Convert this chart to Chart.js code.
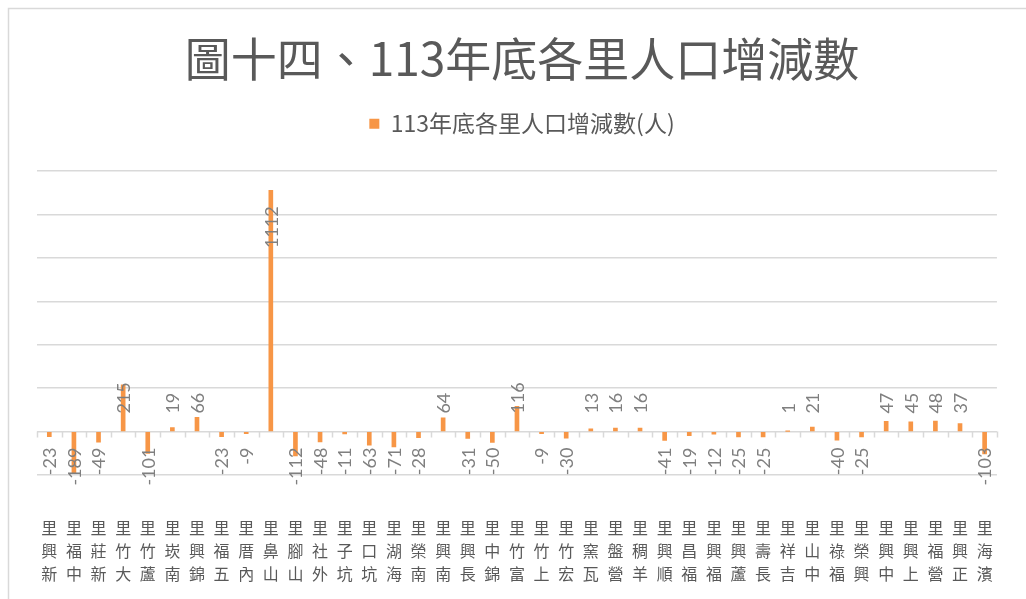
<!DOCTYPE html>
<html>
<head>
<meta charset="utf-8">
<script src="https://cdn.jsdelivr.net/npm/chart.js@4.4.1/dist/chart.umd.min.js"></script>
<style>
  html, body { margin: 0; padding: 0; background: #fff; }
</style>
</head>
<body>
<canvas id="village_chart" width="1026" height="599"></canvas>
<script>
// 各里名稱與人口增減數
var villages = [
  "新興里", "中福里", "新莊里", "大竹里", "蘆竹里", "南崁里", "錦興里", "五福里",
  "內厝里", "山鼻里", "山腳里", "外社里", "坑子里", "坑口里", "海湖里", "南榮里",
  "南興里", "長興里", "錦中里", "富竹里", "上竹里", "宏竹里", "瓦窯里", "營盤里",
  "羊稠里", "順興里", "福昌里", "福興里", "蘆興里", "長壽里", "吉祥里", "中山里",
  "福祿里", "興榮里", "中興里", "上興里", "營福里", "正興里", "濱海里"
];
var changes = [
  -23, -189, -49, 215, -101, 19, 66, -23,
  -9, 1112, -112, -48, -11, -63, -71, -28,
  64, -31, -50, 116, -9, -30, 13, 16,
  16, -41, -19, -12, -25, -25, 1, 21,
  -40, -25, 47, 45, 48, 37, -103
];
var seriesName = "113年底各里人口增減數(人)";
var chartTitle = "圖十四、113年底各里人口增減數";

// labels are drawn as stacked upright characters, read bottom to top
function stackedLabel(name) {
  return name.split("").reverse();
}

var grey = "#595959";
var gridGrey = "#d9d9d9";

var decorPlugin = {
  id: "decor",
  beforeDraw: function (chart) {
    var ctx = chart.ctx;
    ctx.save();
    ctx.strokeStyle = gridGrey;
    ctx.lineWidth = 1.5;
    ctx.strokeRect(8.5, 8.5, chart.width + 20, chart.height + 20);
    ctx.restore();
  },
  beforeDatasetsDraw: function (chart) {
    // small tick marks under the zero line, between categories
    var ctx = chart.ctx;
    var x = chart.scales.x, y = chart.scales.y;
    var zeroY = y.getPixelForValue(0);
    var step = (x.right - x.left) / villages.length;
    ctx.save();
    ctx.strokeStyle = gridGrey;
    ctx.lineWidth = 1.5;
    ctx.beginPath();
    for (var i = 0; i <= villages.length; i++) {
      var px = Math.round(x.left + i * step) + 0.5;
      ctx.moveTo(px, zeroY);
      ctx.lineTo(px, zeroY + 6);
    }
    ctx.stroke();
    ctx.restore();
  },
  afterDatasetsDraw: function (chart) {
    var ctx = chart.ctx;
    var zeroY = chart.scales.y.getPixelForValue(0);
    var meta = chart.getDatasetMeta(0);
    ctx.save();
    ctx.font = "18px Lato, 'Liberation Sans', sans-serif";
    ctx.fillStyle = "#7f7f7f";
    ctx.textBaseline = "middle";
    meta.data.forEach(function (bar, i) {
      var v = changes[i];
      var txt = String(v);
      var w = ctx.measureText(txt).width;
      var anchor, align;
      if (v >= 0) {
        if (bar.y + 16 + w < zeroY - 18) {
          anchor = bar.y + 16; align = "right";
        } else {
          anchor = zeroY - 18; align = "left";
        }
      } else {
        anchor = zeroY + 16; align = "right";
      }
      ctx.save();
      ctx.translate(bar.x, anchor);
      ctx.rotate(-Math.PI / 2);
      ctx.textAlign = align;
      ctx.fillText(txt, 0, 1);
      ctx.restore();
    });
    ctx.restore();
  }
};

var ctx = document.getElementById("village_chart").getContext("2d");
var chart = new Chart(ctx, {
  type: "bar",
  data: {
    labels: villages.map(stackedLabel),
    datasets: [{
      label: seriesName,
      data: changes,
      backgroundColor: "#f79646",
      borderWidth: 0,
      barThickness: 4
    }]
  },
  options: {
    responsive: false,
    animation: false,
    layout: { padding: { left: 37, right: 19, top: 0, bottom: 0 } },
    plugins: {
      title: {
        display: true,
        text: chartTitle,
        color: grey,
        font: { family: "'Noto Sans CJK TC', sans-serif", size: 46, weight: "normal" },
        padding: { top: 31, bottom: 16 }
      },
      legend: {
        display: true,
        labels: {
          color: grey,
          font: { family: "'Noto Sans CJK TC', sans-serif", size: 23 },
          boxWidth: 10,
          boxHeight: 10,
          padding: 10
        }
      },
      tooltip: { enabled: false }
    },
    scales: {
      x: {
        grid: { display: false },
        border: { display: false },
        afterFit: function (scale) { scale.height = 124; },
        ticks: {
          autoSkip: false,
          maxRotation: 0,
          minRotation: 0,
          color: grey,
          padding: 33,
          font: { family: "'Noto Sans CJK TC', sans-serif", size: 16, lineHeight: 1.45 }
        }
      },
      gap: {
        type: "category",
        position: "top",
        grid: { display: false },
        border: { display: false },
        ticks: { display: false },
        afterFit: function (scale) { scale.height = 26; }
      },
      y: {
        min: -200,
        max: 1200,
        ticks: { stepSize: 200, display: false },
        grid: { color: gridGrey, lineWidth: 1.5, drawTicks: false },
        border: { display: false }
      }
    }
  },
  plugins: [decorPlugin]
});
</script>
</body>
</html>
